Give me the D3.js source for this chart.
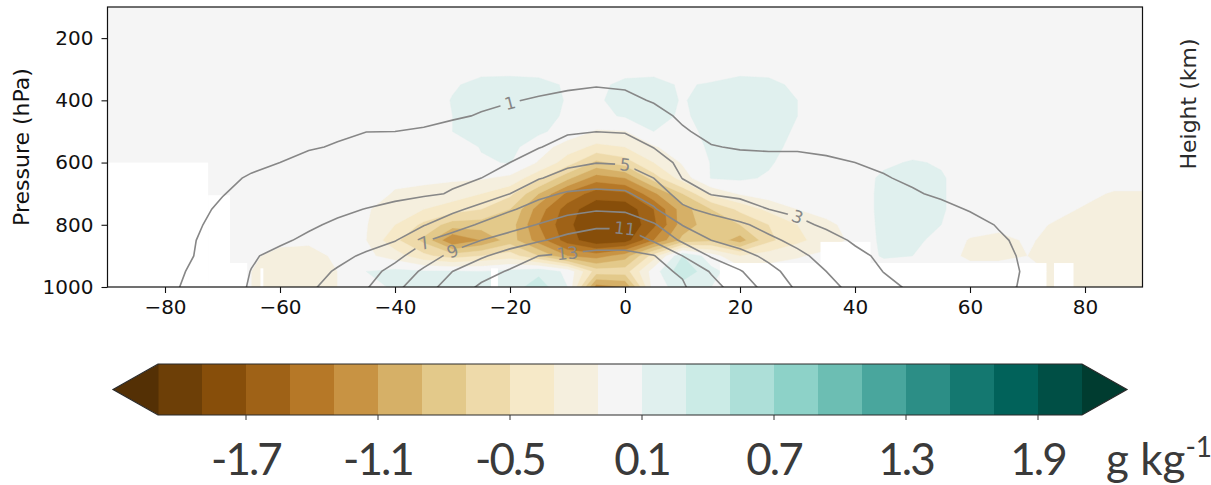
<!DOCTYPE html>
<html>
<head>
<meta charset="utf-8">
<script src="https://cdn.jsdelivr.net/npm/d3@7"></script>
<style>
  html, body { margin: 0; padding: 0; background: #fff; }
  svg { display: block; }
</style>
</head>
<body>
<svg id="chart" width="1211" height="485"></svg>
<script>
// ---- grid axes -------------------------------------------------------------
const latitudes = [-90,-85,-80,-75,-70,-65,-60,-55,-50,-45,-40,-35,-30,-25,-20,-15,-10,-5,0,5,10,15,20,25,30,35,40,45,50,55,60,65,70,75,80,85,90];
const pressureLevels = [100,150,200,250,300,350,400,450,500,550,600,650,700,750,800,850,900,950,1000];

// ---- humidity anomaly (g/kg), one row per pressure level, one column per latitude
const anomaly = [
  [0,0,0,0,0,0,0,0,0,0,0,0,0,0,0,0,0,0,0,0,0,0,0,0,0,0,0,0,0,0,0,0,0,0,0,0,0],
  [0,0,0,0,0,0,0,0,0,0,0,0,0,0,0,0,0,0,0,0,0,0,0,0,0,0,0,0,0,0,0,0,0,0,0,0,0],
  [0,0,0,0,0,0,0,0,0,0,0,0,0,0,0,0,0,0,0,0,0,0,0,0,0,0,0,0,0,0,0,0,0,0,0,0,0],
  [0,0,0,0,0,0,0,0,0,0,0,0,0,0,0,0,0,0,0,0,0,0,0,0,0,0,0,0,0,0,0,0,0,0,0,0,0],
  [0,0,0,0,0,0,0,0,0,0,0,0,0,.05,.05,.04,0,0,.04,.05,0,0,.05,.04,0,0,0,0,0,0,0,0,0,0,0,0,0],
  [0,0,0,0,0,0,0,0,0,0,0,0,.08,.15,.16,.15,.08,.06,.14,.15,.08,.12,.16,.15,.06,0,0,0,0,0,0,0,0,0,0,0,0],
  [0,0,0,0,0,0,0,0,0,0,0,0,.11,.16,.17,.16,.09,.08,.15,.16,.09,.15,.17,.16,.1,0,0,0,0,0,0,0,0,0,0,0,0],
  [0,0,0,0,0,0,0,0,0,0,0,0,.1,.15,.16,.15,.08,.05,.12,.15,.08,.15,.18,.16,.1,0,0,0,0,0,0,0,0,0,0,0,0],
  [0,0,0,0,0,0,0,0,0,0,0,0,.1,.15,.16,.13,.03,-.12,-.11,.1,.05,.14,.18,.16,.08,0,0,0,0,0,0,0,0,0,0,0,0],
  [0,0,0,0,0,0,0,0,0,0,0,0,0,.11,.15,0,-.2,-.35,-.3,-.12,0,.13,.2,.15,.05,0,0,0,0,0,0,0,0,0,0,0,0],
  [0,0,0,0,0,0,0,0,0,0,0,0,0,.08,.11,-.12,-.4,-.75,-.6,-.3,-.08,.11,.25,.12,.02,0,0,.06,.12,.08,0,0,0,0,0,0,0],
  [0,0,0,0,0,0,0,0,0,0,-.05,-.06,-.07,-.08,-.15,-.45,-.85,-1.2,-1.1,-.6,-.2,.11,.13,.08,0,0,0,.14,.15,.12,0,0,0,0,0,0,0],
  [0,0,0,0,0,0,0,0,0,0,-.12,-.15,-.2,-.3,-.45,-.9,-1.35,-1.6,-1.55,-1.15,-.7,-.25,-.08,0,0,0,0,.15,.15,.12,0,0,0,0,-.05,-.12,-.12],
  [0,0,0,0,0,0,0,0,0,-.08,-.2,-.3,-.4,-.5,-.7,-1.2,-1.6,-1.85,-1.85,-1.5,-1,-.7,-.45,-.25,-.1,-.02,0,.15,.15,.12,0,0,0,-.05,-.12,-.15,-.15],
  [0,0,0,0,0,0,0,0,0,-.09,-.3,-.55,-.8,-.8,-.8,-1.3,-1.65,-1.9,-1.9,-1.55,-1,-.8,-.7,-.5,-.3,-.15,-.02,.15,.15,.1,0,-.05,-.05,-.12,-.15,-.15,-.15],
  [0,0,0,0,0,0,-.02,-.05,-.05,-.1,-.45,-.75,-1.3,-1.1,-.8,-1.2,-1.6,-1.85,-1.8,-1.3,-.85,-.75,-1,-.55,-.35,-.2,-.05,.15,.13,.06,-.12,-.15,-.08,-.15,-.15,-.15,-.15],
  [0,0,0,0,0,-.05,-.2,-.2,-.05,-.05,-.2,-.45,-.6,-.5,-.4,-.7,-1.1,-1.2,-1,-.4,.3,0,-.3,-.2,-.12,-.05,0,.12,.1,0,-.15,-.15,-.1,-.15,-.15,-.15,-.15],
  [0,0,0,0,0,-.1,-.25,-.3,-.1,.1,.15,.12,.12,.1,.15,.25,.05,-.6,-.6,0,.45,.15,0,0,0,0,0,0,0,0,0,0,0,-.15,-.15,-.15,-.15],
  [0,0,0,0,0,-.1,-.3,-.3,-.1,.05,.12,.15,.12,.1,.2,.4,.1,-1.2,-1.1,0,.2,.1,0,0,0,0,0,0,0,0,0,0,-.1,-.15,-.15,-.15,-.15]
];

// ---- mean specific humidity (g/kg), same grid
const meanHumidity = [
  [0,0,0,0,0,0,0,0,0,0,0,0,0,0,0,0,0,0,0,0,0,0,0,0,0,0,0,0,0,0,0,0,0,0,0,0,0],
  [0,0,0,0,0,0,0,0,0,0,0,0,0,0,0,0,0,0,0,0,0,0,0,0,0,0,0,0,0,0,0,0,0,0,0,0,0],
  [0,0,0,.01,.01,.01,.02,.02,.03,.03,.04,.05,.06,.07,.09,.11,.13,.15,.14,.1,.07,.05,.03,.03,.02,.02,.02,.01,.01,.01,.01,.01,0,0,0,0,0],
  [.01,.01,.01,.02,.02,.03,.04,.05,.06,.07,.09,.11,.13,.15,.18,.22,.26,.28,.27,.2,.13,.09,.07,.06,.05,.04,.04,.03,.03,.02,.02,.02,.02,.01,.01,.01,.01],
  [.01,.02,.03,.04,.05,.07,.09,.11,.13,.16,.19,.22,.26,.3,.36,.42,.48,.52,.5,.38,.25,.17,.12,.1,.09,.08,.07,.06,.05,.04,.04,.03,.03,.03,.02,.02,.02],
  [.02,.03,.05,.07,.09,.12,.15,.19,.23,.27,.32,.37,.43,.5,.6,.72,.85,.95,.9,.65,.42,.28,.2,.17,.15,.13,.11,.09,.08,.07,.06,.05,.05,.04,.04,.04,.03],
  [.03,.05,.08,.11,.15,.2,.25,.31,.37,.43,.5,.58,.67,.78,.93,1.1,1.25,1.3,1.2,.93,.6,.4,.3,.26,.23,.2,.17,.14,.12,.1,.09,.08,.07,.07,.06,.06,.05],
  [.04,.07,.11,.16,.22,.29,.37,.46,.56,.64,.7,.78,.85,1.08,1.35,1.6,1.85,1.95,1.8,1.3,.85,.5,.4,.36,.32,.28,.24,.2,.17,.15,.13,.12,.11,.1,.09,.09,.08],
  [.06,.1,.17,.25,.34,.45,.58,.72,.88,.99,1.0,1.08,1.4,1.7,2.05,2.45,2.85,2.98,2.9,2.25,1.1,.75,.6,.55,.5,.45,.38,.32,.27,.23,.2,.18,.16,.15,.14,.13,.12],
  [.08,.15,.25,.38,.52,.68,.82,.93,1.06,1.25,1.35,1.5,1.75,2.1,2.5,2.93,3.5,3.9,3.75,2.95,1.9,1.05,.92,.9,.9,.85,.72,.6,.5,.42,.36,.31,.27,.24,.22,.2,.19],
  [.1,.2,.35,.5,.7,.85,1.0,1.25,1.5,1.75,2.0,2.25,2.5,2.75,3.0,3.8,4.6,4.95,4.85,3.8,2.6,1.9,1.35,1.25,1.25,1.12,1.0,.88,.72,.62,.52,.45,.4,.35,.32,.3,.28],
  [.12,.25,.4,.6,.85,1.07,1.31,1.55,1.79,2.04,2.28,2.52,2.76,3.0,3.9,4.87,5.7,6.2,6.0,5.0,2.95,2.4,2.05,1.8,1.65,1.5,1.3,1.05,.88,.72,.6,.52,.46,.42,.38,.35,.32],
  [.15,.3,.5,.75,.97,1.23,1.49,1.74,2.0,2.26,2.51,2.77,3.1,4.05,5.0,6.54,7.2,7.35,7.25,6.1,4.2,2.9,2.64,2.38,2.12,1.86,1.65,1.34,1.08,.88,.75,.65,.55,.5,.45,.4,.38],
  [.2,.3,.5,.8,1.12,1.5,1.88,2.27,2.65,3.05,3.5,4.0,4.6,5.57,6.8,7.7,8.3,8.8,8.6,7.2,5.36,4.43,3.71,3.0,2.7,2.4,2.1,1.8,1.5,1.2,.95,.8,.65,.55,.5,.45,.4],
  [.2,.35,.55,.85,1.32,1.8,2.28,2.76,3.27,3.81,4.35,4.89,6.07,7.27,8.2,9.1,10.1,10.6,10.6,9.25,6.92,6.12,5.32,4.37,3.32,2.78,2.48,2.17,1.86,1.55,1.25,.95,.75,.62,.55,.48,.42],
  [.25,.4,.6,.95,1.53,2.14,2.75,3.32,3.84,4.37,4.9,6.78,7.95,9.0,9.9,10.8,11.6,12.2,12.3,10.8,8.67,7.0,6.2,5.4,4.5,3.5,2.83,2.48,2.14,1.79,1.45,1.1,.82,.68,.58,.5,.45],
  [.25,.4,.65,1.0,1.91,2.82,3.44,4.0,4.56,5.25,6.5,8.0,9.5,10.75,11.9,13.0,13.3,13.45,13.4,13.1,11.0,8.78,7.67,6.56,5.44,4.37,3.32,2.74,2.36,1.98,1.6,1.23,.85,.7,.58,.5,.45],
  [.3,.45,.7,1.12,2.09,3.04,3.73,4.41,5.16,6.28,7.62,9.33,11.0,12.25,13.2,13.6,13.9,13.9,13.7,13.4,12.8,10.83,9.15,7.55,6.2,5.0,3.95,2.96,2.54,2.11,1.69,1.27,.9,.75,.62,.52,.45],
  [.3,.5,.75,1.24,2.2,3.16,3.93,4.7,5.7,6.84,8.5,10.2,11.86,13.3,13.8,14.2,14.4,14.4,14.2,13.8,13.2,11.7,10.0,8.3,6.7,5.55,4.47,3.46,2.73,2.24,1.74,1.25,.85,.7,.6,.5,.45]
];

// filled-contour boundaries of the anomaly (g/kg)
const anomalyLevels = [-2.1,-1.9,-1.7,-1.5,-1.3,-1.1,-0.9,-0.7,-0.5,-0.3,-0.1,0.1,0.3,0.5,0.7,0.9,1.1,1.3,1.5,1.7,1.9,2.1];
// line contours of the mean humidity (g/kg)
const meanLevels = [1,3,5,7,9,11,13];
// where each line contour carries its inline label (lat, hPa)
const labelAnchors = [
  { level: 1,  lat: -22,   p: 431 },
  { level: 3,  lat: 29.3,  p: 779 },
  { level: 5,  lat: -0.9,  p: 602 },
  { level: 7,  lat: -36.3, p: 884 },
  { level: 9,  lat: -30.1, p: 892 },
  { level: 11, lat: -0.6,  p: 817 },
  { level: 13, lat: -11,   p: 884 }
];
// columns without data below a given level: [lat from, lat to, top pressure]
const missingColumns = [
  [-90, -72.5, 600], [-72.5, -68.7, 705], [-68.7, -65.7, 923], [-63.4, -62.9, 940],
  [-23.3, -22.1, 940], [16.5, 73.3, 923], [34, 42.7, 855], [74.6, 78, 923]
];
const pressureTicks = [200, 400, 600, 800, 1000];
const latitudeTicks = [-80, -60, -40, -20, 0, 20, 40, 60, 80];
const colorbarTicks = [-1.7, -1.1, -0.5, 0.1, 0.7, 1.3, 1.9];
const colorbarTickLabels = ["-1.7", "-1.1", "-0.5", "0.1", "0.7", "1.3", "1.9"];

// ---- layout ----------------------------------------------------------------
const svg = d3.select("#chart");
const plot = { left: 107.5, right: 1142.5, top: 7, bottom: 287 };
const x = d3.scaleLinear().domain([-90, 90]).range([plot.left, plot.right]);
const y = d3.scaleLinear().domain([100, 1000]).range([plot.top, plot.bottom]);

// BrBG diverging map, sampled once per band plus the two extensions
const brbgStops = ["#543005","#8c510a","#bf812d","#dfc27d","#f6e8c3","#f5f5f5","#c7eae5","#80cdc1","#35978f","#01665e","#003c30"];
const brbg = d3.scaleLinear().domain(d3.range(11).map(i => i / 10)).range(brbgStops).interpolate(d3.interpolateRgb);
const nBands = anomalyLevels.length;            // 22 boundaries -> 21 bands + 2 extensions
const bandColor = i => brbg(i / nBands);         // i = 0 .. nBands

const defs = svg.append("defs");
defs.append("clipPath").attr("id", "plotClip")
  .append("rect").attr("x", plot.left).attr("y", plot.top)
  .attr("width", plot.right - plot.left).attr("height", plot.bottom - plot.top);

// grid index -> screen, through the chart scales
const nx = latitudes.length, ny = pressureLevels.length;
const dLat = latitudes[1] - latitudes[0], dP = pressureLevels[1] - pressureLevels[0];
const gridLat = gx => latitudes[0] + (gx - 0.5) * dLat;
const gridP = gy => pressureLevels[0] + (gy - 0.5) * dP;
const gridPath = d3.geoPath(d3.geoTransform({
  point(gx, gy) { this.stream.point(x(gridLat(gx)), y(gridP(gy))); }
}));

const field = svg.append("g").attr("clip-path", "url(#plotClip)");

// filled anomaly bands, stacked from the lowest boundary upward
const anomalyFlat = anomaly.flat();
const fillThresholds = [d3.min(anomalyFlat) - 1].concat(anomalyLevels);
const bands = d3.contours().size([nx, ny]).thresholds(fillThresholds)(anomalyFlat);
field.selectAll("path.band").data(bands).join("path")
  .attr("class", "band")
  .attr("d", gridPath)
  .attr("fill", (d, i) => bandColor(i))
  .attr("stroke", (d, i) => bandColor(i))
  .attr("stroke-width", 0.4);

// missing-data columns
field.selectAll("rect.missing").data(missingColumns).join("rect")
  .attr("class", "missing")
  .attr("x", d => x(d[0]))
  .attr("width", d => x(d[1]) - x(d[0]))
  .attr("y", d => y(d[2]))
  .attr("height", d => y(1000) - y(d[2]) + 2)
  .attr("fill", "#ffffff");

// mean humidity line contours
const meanFlat = meanHumidity.flat();
const contourGen = d3.contours().size([nx, ny]);
const meanContours = meanLevels.map(level => contourGen.contour(meanFlat, level));

// place inline labels on the contour nearest each anchor
const labelFont = "DejaVu Sans, sans-serif";
const labelColor = "#878787";
const labelPlacements = labelAnchors.map(a => {
  const geom = meanContours[meanLevels.indexOf(a.level)];
  const ax = x(a.lat), ay = y(a.p);
  let best = null;
  geom.coordinates.forEach(poly => poly.forEach(ring => {
    const pts = ring.map(([gx, gy]) => [x(gridLat(gx)), y(gridP(gy))]);
    pts.forEach((pt, i) => {
      const dd = (pt[0] - ax) ** 2 + (pt[1] - ay) ** 2;
      if (!best || dd < best.dd) best = { dd, pts, i };
    });
  }));
  const n = best.pts.length;
  const p0 = best.pts[(best.i - 3 + n) % n], p1 = best.pts[(best.i + 3) % n];
  let ang = Math.atan2(p1[1] - p0[1], p1[0] - p0[0]) * 180 / Math.PI;
  if (ang > 90) ang -= 180;
  if (ang < -90) ang += 180;
  const pt = best.pts[best.i];
  return { level: a.level, px: pt[0], py: pt[1], ang };
});

const labelLayer = svg.append("g");
const labelTexts = labelLayer.selectAll("text").data(labelPlacements).join("text")
  .attr("transform", d => `translate(${d.px},${d.py}) rotate(${d.ang})`)
  .attr("text-anchor", "middle")
  .attr("dy", "0.36em")
  .attr("font-family", labelFont)
  .attr("font-size", 17)
  .attr("fill", labelColor)
  .text(d => d.level);

// gap in each line under its label
const mask = defs.append("mask").attr("id", "labelGaps")
  .attr("maskUnits", "userSpaceOnUse")
  .attr("x", 0).attr("y", 0).attr("width", 1211).attr("height", 485);
mask.append("rect").attr("x", 0).attr("y", 0).attr("width", 1211).attr("height", 485).attr("fill", "#fff");
labelTexts.each(function (d) {
  const w = this.getComputedTextLength() + 9;
  mask.append("rect")
    .attr("transform", `translate(${d.px},${d.py}) rotate(${d.ang})`)
    .attr("x", -w / 2).attr("y", -8).attr("width", w).attr("height", 16)
    .attr("fill", "#000");
});

const lines = svg.insert("g", () => labelLayer.node())
  .attr("clip-path", "url(#plotClip)")
  .append("g").attr("mask", "url(#labelGaps)");
lines.selectAll("path").data(meanContours).join("path")
  .attr("d", gridPath)
  .attr("fill", "none")
  .attr("stroke", "#878787")
  .attr("stroke-width", 1.6);

// ---- axes ------------------------------------------------------------------
const tickFont = "DejaVu Sans, sans-serif";
const yAxis = svg.append("g").attr("transform", `translate(${plot.left},0)`)
  .call(d3.axisLeft(y).tickValues(pressureTicks).tickSize(6).tickPadding(8).tickFormat(d3.format("d")));
const xAxis = svg.append("g").attr("transform", `translate(0,${plot.bottom})`)
  .call(d3.axisBottom(x).tickValues(latitudeTicks).tickSize(6).tickPadding(7).tickFormat(d3.format("d")));
[yAxis, xAxis].forEach(ax => {
  ax.select(".domain").remove();
  ax.selectAll(".tick line").attr("stroke", "#111").attr("stroke-width", 1.1);
  ax.selectAll(".tick text").attr("font-family", tickFont).attr("font-size", 20).attr("fill", "#111");
});

svg.append("rect")
  .attr("x", plot.left).attr("y", plot.top)
  .attr("width", plot.right - plot.left).attr("height", plot.bottom - plot.top)
  .attr("fill", "none").attr("stroke", "#111").attr("stroke-width", 1.2);

svg.append("text")
  .attr("transform", `translate(21,${(plot.top + plot.bottom) / 2}) rotate(-90)`)
  .attr("text-anchor", "middle").attr("dy", "0.35em")
  .attr("font-family", tickFont).attr("font-size", 22).attr("fill", "#111")
  .text("Pressure (hPa)");

svg.append("text")
  .attr("transform", "translate(1188,104) rotate(-90)")
  .attr("text-anchor", "middle").attr("dy", "0.35em")
  .attr("font-family", tickFont).attr("font-size", 22).attr("fill", "#2a2a2a")
  .text("Height (km)");

// ---- colour bar --------------------------------------------------------------
const cb = { top: 364, bottom: 415, tip: 45 };
const cbx = d3.scaleLinear().domain([anomalyLevels[0], anomalyLevels[nBands - 1]]).range([158, 1082]);
const cbMid = (cb.top + cb.bottom) / 2;
const bar = svg.append("g");
const bandPairs = d3.pairs(anomalyLevels);
bar.selectAll("rect").data(bandPairs).join("rect")
  .attr("x", d => cbx(d[0]))
  .attr("width", d => cbx(d[1]) - cbx(d[0]) + 0.6)
  .attr("y", cb.top).attr("height", cb.bottom - cb.top)
  .attr("fill", (d, i) => bandColor(i + 1));
const lo = cbx(anomalyLevels[0]), hi = cbx(anomalyLevels[nBands - 1]);
bar.append("path")
  .attr("d", `M${lo + 0.5},${cb.top}L${lo + 0.5},${cb.bottom}L${lo - cb.tip},${cbMid}Z`)
  .attr("fill", bandColor(0));
bar.append("path")
  .attr("d", `M${hi},${cb.top}L${hi},${cb.bottom}L${hi + cb.tip},${cbMid}Z`)
  .attr("fill", bandColor(nBands));
bar.append("path")
  .attr("d", `M${lo - cb.tip},${cbMid}L${lo},${cb.top}L${hi},${cb.top}L${hi + cb.tip},${cbMid}L${hi},${cb.bottom}L${lo},${cb.bottom}Z`)
  .attr("fill", "none").attr("stroke", "#2a2a2a").attr("stroke-width", 1.2);

bar.selectAll("line.cbtick").data(colorbarTicks).join("line")
  .attr("class", "cbtick")
  .attr("x1", d => cbx(d)).attr("x2", d => cbx(d))
  .attr("y1", cb.bottom).attr("y2", cb.bottom + 5)
  .attr("stroke", "#333").attr("stroke-width", 1);

const cbFont = "Lato, 'Open Sans', sans-serif";
bar.selectAll("text.cblabel").data(colorbarTicks).join("text")
  .attr("class", "cblabel")
  .attr("x", d => cbx(d)).attr("y", 475)
  .attr("text-anchor", "middle")
  .attr("font-family", cbFont).attr("font-size", 44).attr("fill", "#3a3a3a")
  .attr("letter-spacing", -2)
  .text((d, i) => colorbarTickLabels[i]);

const unit = bar.append("text")
  .attr("x", 1106).attr("y", 475)
  .attr("font-family", cbFont).attr("font-size", 44).attr("fill", "#3a3a3a");
unit.append("tspan").text("g kg");
unit.append("tspan").attr("dy", -18).attr("font-size", 28).text("-1");
</script>
</body>
</html>
